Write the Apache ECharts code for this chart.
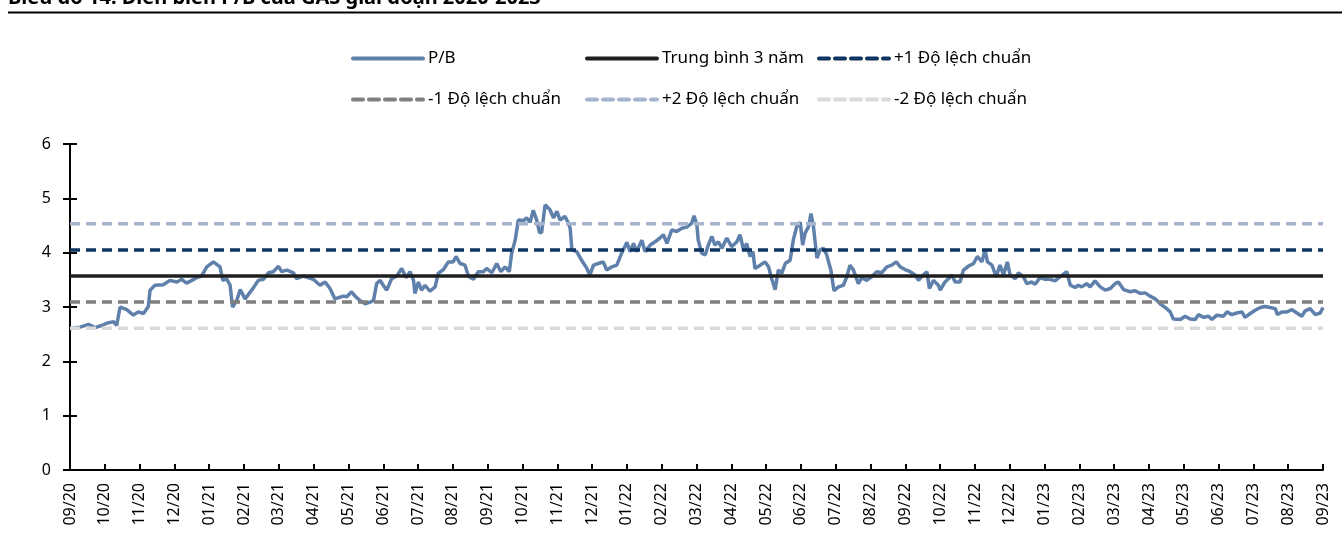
<!DOCTYPE html>
<html>
<head>
<meta charset="utf-8">
<script src="https://cdn.jsdelivr.net/npm/echarts@6/dist/echarts.min.js"></script>
<style>
  html, body { margin: 0; padding: 0; background: #fff; }
  #main { width: 1342px; height: 552px; }
</style>
</head>
<body>
<div id="main"></div>
<script>
// nhãn trục hoành: mỗi tháng một nhãn, từ 09/20 đến 09/23
var monthLabels = ['09/20','10/20','11/20','12/20','01/21','02/21','03/21','04/21','05/21','06/21','07/21','08/21',
  '09/21','10/21','11/21','12/21','01/22','02/22','03/22','04/22','05/22','06/22','07/22','08/22',
  '09/22','10/22','11/22','12/22','01/23','02/23','03/23','04/23','05/23','06/23','07/23','08/23','09/23'];

// vị trí theo tháng (0 = 09/20) và giá trị P/B
var months = [0.00,0.29,0.53,0.72,0.91,1.05,1.25,1.34,1.44,1.63,1.82,1.96,2.11,2.25,2.30,2.44,2.68,2.87,3.07,3.21,
  3.35,3.50,3.64,3.78,3.93,4.12,4.31,4.39,4.50,4.60,4.67,4.79,4.89,5.03,5.22,5.41,5.56,5.70,5.84,5.99,
  6.08,6.23,6.42,6.51,6.70,6.99,7.18,7.33,7.47,7.61,7.85,7.95,8.09,8.19,8.33,8.48,8.62,8.72,8.81,8.91,
  9.00,9.10,9.24,9.39,9.53,9.66,9.77,9.87,9.91,10.01,10.10,10.20,10.34,10.49,10.58,10.73,10.87,11.01,11.09,11.21,
  11.35,11.45,11.59,11.73,11.88,11.97,12.12,12.26,12.38,12.50,12.62,12.69,12.79,12.88,13.03,13.12,13.22,13.31,13.41,13.49,
  13.55,13.65,13.79,13.89,13.99,14.08,14.22,14.32,14.37,14.42,14.56,14.70,14.85,14.94,15.04,15.18,15.32,15.42,15.57,15.71,
  15.85,16.00,16.09,16.19,16.28,16.43,16.52,16.67,16.81,16.95,17.05,17.15,17.29,17.43,17.58,17.72,17.86,17.93,18.01,18.05,
  18.15,18.25,18.34,18.44,18.53,18.63,18.73,18.87,19.01,19.16,19.25,19.35,19.44,19.54,19.62,19.68,19.83,19.97,20.07,20.16,
  20.26,20.35,20.45,20.55,20.69,20.78,20.88,20.98,21.05,21.12,21.22,21.29,21.36,21.46,21.55,21.65,21.74,21.86,21.95,22.08,
  22.22,22.32,22.41,22.51,22.65,22.75,22.89,23.04,23.18,23.32,23.47,23.61,23.74,23.85,23.99,24.14,24.28,24.38,24.47,24.62,
  24.69,24.81,24.95,25.00,25.14,25.24,25.34,25.43,25.57,25.67,25.81,25.96,26.07,26.20,26.29,26.36,26.49,26.61,26.72,26.82,
  26.93,27.01,27.16,27.25,27.39,27.49,27.63,27.73,27.87,28.02,28.16,28.30,28.45,28.64,28.74,28.88,28.97,29.07,29.21,29.31,
  29.45,29.60,29.74,29.89,30.03,30.12,30.27,30.46,30.60,30.75,30.89,31.03,31.18,31.32,31.47,31.61,31.70,31.90,32.04,32.18,
  32.33,32.42,32.57,32.71,32.81,32.95,33.14,33.24,33.38,33.52,33.67,33.76,33.91,34.05,34.20,34.34,34.48,34.63,34.69,34.82,
  34.96,35.11,35.25,35.39,35.49,35.63,35.78,35.92,36.00];
var pb = [2.60,2.63,2.68,2.62,2.66,2.70,2.73,2.66,3.00,2.95,2.85,2.91,2.88,3.01,3.31,3.40,3.41,3.49,3.46,3.51,
  3.44,3.49,3.54,3.57,3.74,3.83,3.74,3.49,3.52,3.40,3.00,3.12,3.32,3.15,3.31,3.49,3.51,3.63,3.65,3.75,
  3.65,3.68,3.63,3.52,3.57,3.51,3.40,3.46,3.34,3.15,3.20,3.19,3.28,3.20,3.12,3.06,3.09,3.12,3.43,3.49,
  3.40,3.31,3.52,3.57,3.71,3.54,3.65,3.49,3.25,3.46,3.31,3.40,3.29,3.37,3.62,3.69,3.83,3.83,3.93,3.80,
  3.77,3.56,3.51,3.65,3.65,3.71,3.63,3.80,3.65,3.74,3.65,3.99,4.23,4.60,4.59,4.64,4.56,4.78,4.60,4.37,
  4.37,4.88,4.79,4.64,4.76,4.60,4.67,4.54,4.45,4.05,4.02,3.86,3.71,3.59,3.77,3.80,3.83,3.68,3.74,3.77,
  3.99,4.19,4.02,4.17,4.02,4.23,4.02,4.14,4.20,4.27,4.33,4.17,4.42,4.39,4.45,4.47,4.54,4.68,4.51,4.23,
  3.99,3.96,4.14,4.30,4.14,4.20,4.08,4.27,4.11,4.20,4.33,4.05,4.17,3.93,4.02,3.71,3.77,3.83,3.74,3.52,
  3.32,3.68,3.62,3.80,3.86,4.23,4.48,4.56,4.14,4.36,4.48,4.72,4.48,3.90,4.05,4.08,3.96,3.68,3.30,3.37,
  3.40,3.56,3.77,3.68,3.43,3.54,3.49,3.56,3.65,3.63,3.74,3.77,3.83,3.74,3.69,3.65,3.59,3.49,3.56,3.65,
  3.34,3.49,3.40,3.31,3.46,3.52,3.59,3.46,3.46,3.68,3.75,3.80,3.93,3.83,4.05,3.83,3.77,3.56,3.77,3.59,
  3.83,3.59,3.52,3.63,3.56,3.43,3.46,3.42,3.54,3.51,3.51,3.48,3.56,3.65,3.40,3.36,3.40,3.37,3.43,3.37,
  3.48,3.37,3.31,3.34,3.43,3.46,3.32,3.28,3.30,3.25,3.26,3.20,3.15,3.06,2.99,2.91,2.78,2.77,2.83,2.78,
  2.77,2.86,2.81,2.83,2.77,2.85,2.83,2.91,2.86,2.89,2.91,2.81,2.88,2.94,2.99,3.01,2.99,2.97,2.86,2.91,
  2.91,2.95,2.89,2.83,2.93,2.97,2.86,2.89,2.99];

// trung bình 3 năm và độ lệch chuẩn
var meanPB = 3.57;
var stdPB = 0.48;

var seriesNames = ['P/B', 'Trung bình 3 năm', '+1 Độ lệch chuẩn', '-1 Độ lệch chuẩn', '+2 Độ lệch chuẩn', '-2 Độ lệch chuẩn'];
var bandOffsets = [0, 1, -1, 2, -2];
var bandColors = ['#1f1f1f', '#0d355f', '#7f7f7f', '#a5b5cf', '#d9d9d9'];

var FONT = 'Noto Sans';

var pbData = months.map(function (m, i) { return [m, pb[i]]; });

function bandLine(k) {
    var v = +(meanPB + bandOffsets[k] * stdPB).toFixed(2);
    return {
        name: seriesNames[k + 1],
        type: 'line',
        symbol: 'none',
        silent: true,
        lineStyle: { color: bandColors[k], width: 3.5, type: k === 0 ? 'solid' : [10, 6] },
        itemStyle: { color: bandColors[k] },
        data: [[0, v], [36, v]]
    };
}

// mỗi mục chú thích là một legend riêng để xếp thành lưới 3 cột x 2 hàng
var legendCols = [351, 585, 817];
var legendRows = [50, 91];
var legends = seriesNames.map(function (name, i) {
    return {
        data: [name],
        left: legendCols[i % 3],
        top: legendRows[Math.floor(i / 3)],
        padding: 0,
        itemWidth: 70,
        itemHeight: 18,
        itemGap: 6,
        selectedMode: false,
        itemStyle: { opacity: 0 },
        lineStyle: { width: 4, cap: 'round' },
        textStyle: { fontFamily: FONT, fontSize: 17, color: '#000', padding: [0, 0, 0, 0] }
    };
});

var chart = echarts.init(document.getElementById('main'));
chart.setOption({
    animation: false,
    backgroundColor: '#fff',
    title: {
        text: 'Biểu đồ 14: Diễn biến P/B của GAS giai đoạn 2020-2023',
        left: 8,
        top: -12,
        padding: 0,
        textStyle: { fontFamily: FONT, fontSize: 20, fontWeight: 'bold', color: '#000' }
    },
    graphic: [{
        type: 'line',
        shape: { x1: 8, y1: 12.5, x2: 1342, y2: 12.5 },
        style: { stroke: '#000', lineWidth: 2 }
    }],
    legend: legends,
    grid: { left: 70, right: 19, top: 144, bottom: 82, containLabel: false },
    xAxis: {
        type: 'value',
        min: 0,
        max: 36,
        interval: 1,
        splitLine: { show: false },
        axisLine: { lineStyle: { color: '#000', width: 2 } },
        axisTick: { inside: true, length: 6, lineStyle: { color: '#000', width: 2 } },
        axisLabel: {
            rotate: 90,
            margin: 13,
            fontFamily: FONT,
            fontSize: 16,
            color: '#000',
            formatter: function (v) { return monthLabels[Math.round(v)]; }
        }
    },
    yAxis: [{
        type: 'value',
        min: 0,
        max: 6,
        interval: 1,
        splitLine: { show: false },
        axisLine: { show: true, lineStyle: { color: '#000', width: 2 } },
        axisTick: { show: true, length: 7, lineStyle: { color: '#000', width: 2 } },
        axisLabel: { margin: 19, fontFamily: FONT, fontSize: 16, color: '#000' }
    }, {
        // chỉ để vẽ nửa trong của vạch chia (vạch cắt ngang trục)
        type: 'value',
        position: 'left',
        min: 0,
        max: 6,
        interval: 1,
        splitLine: { show: false },
        axisLine: { show: false },
        axisTick: { show: true, inside: true, length: 7, lineStyle: { color: '#000', width: 2 } },
        axisLabel: { show: false }
    }],
    series: [{
        name: seriesNames[0],
        type: 'line',
        symbol: 'none',
        lineStyle: { color: '#5f80aa', width: 3.5 },
        itemStyle: { color: '#5f80aa' },
        data: pbData
    }].concat(bandOffsets.map(function (o, k) { return bandLine(k); }))
});
</script>
</body>
</html>
